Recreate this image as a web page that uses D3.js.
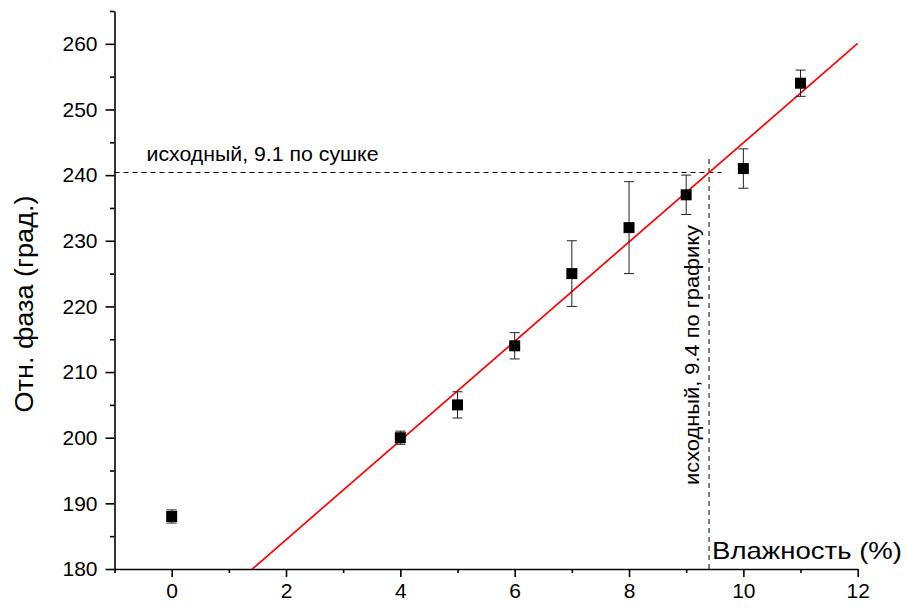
<!DOCTYPE html>
<html>
<head>
<meta charset="utf-8">
<script src="https://cdn.jsdelivr.net/npm/d3@7"></script>
<style>
  body { margin: 0; background: #fff; }
  text { font-family: "Liberation Sans", Arial, Helvetica, sans-serif; fill: #000; }
</style>
</head>
<body>
<div id="chart"></div>
<script>
// measured points: moisture (%), relative phase (deg) and its error
let moisture = [0, 4, 5, 6, 7, 8, 9, 10, 11];
let phase    = [188, 200, 205, 214, 225, 232, 237, 241, 254];
let phaseErr = [1, 1, 2, 2, 5, 7, 3, 3, 2];

// linear fit  phase = a + b * moisture
let fitA = 169.34, fitB = 7.56;

// reference values
let dryingMoisture = 9.4;
let dryingPhase = 240.4;

let xMajor = [0, 2, 4, 6, 8, 10, 12];
let xMinor = [-1, 1, 3, 5, 7, 9, 11];
let yMajor = [180, 190, 200, 210, 220, 230, 240, 250, 260];
let yMinor = [185, 195, 205, 215, 225, 235, 245, 255, 265];

const W = 906, H = 609;
const svg = d3.select('#chart').append('svg').attr('width', W).attr('height', H);

const x = d3.scaleLinear().domain([-1, 12]).range([114.5, 857.7]);
const y = d3.scaleLinear().domain([180, 265]).range([569, 11]);

svg.append('clipPath').attr('id', 'plot')
  .append('rect').attr('x', x(-1)).attr('y', 0).attr('width', W - x(-1)).attr('height', y(180));

// axes
svg.append('g').attr('transform', `translate(0,${y(180)})`)
  .call(d3.axisBottom(x).tickValues(xMajor).tickSize(8).tickSizeOuter(0).tickPadding(6).tickFormat(d3.format('d')));
svg.append('g').attr('transform', `translate(0,${y(180)})`)
  .call(d3.axisBottom(x).tickValues(xMinor).tickSize(4).tickSizeOuter(0).tickFormat(''))
  .select('.domain').remove();
svg.append('g').attr('transform', `translate(${x(-1)},0)`)
  .call(d3.axisLeft(y).tickValues(yMajor).tickSize(9).tickSizeOuter(0).tickPadding(8).tickFormat(d3.format('d')));
svg.append('g').attr('transform', `translate(${x(-1)},0)`)
  .call(d3.axisLeft(y).tickValues(yMinor).tickSize(4.5).tickSizeOuter(0).tickFormat(''))
  .select('.domain').remove();

svg.selectAll('.domain, .tick line').attr('stroke', '#000').attr('stroke-width', 1.6);
svg.selectAll('.tick text').attr('font-size', 21).attr('font-family', '"Liberation Sans", Arial, sans-serif').attr('fill', '#000');

// axis titles
svg.append('text').attr('transform', `translate(33,${(y(180) + y(265)) / 2 + 14}) rotate(-90)`)
  .attr('text-anchor', 'middle').attr('font-size', 25)
  .attr('textLength', 217).attr('lengthAdjust', 'spacingAndGlyphs')
  .text('Отн. фаза (град.)');
svg.append('text').attr('x', 712).attr('y', 559).attr('font-size', 24)
  .attr('textLength', 190).attr('lengthAdjust', 'spacingAndGlyphs')
  .text('Влажность (%)');

// dashed reference lines
svg.append('line')
  .attr('x1', x(-1)).attr('x2', x(9.62))
  .attr('y1', y(dryingPhase)).attr('y2', y(dryingPhase))
  .attr('stroke', '#000').attr('stroke-width', 1).attr('stroke-dasharray', '5,4');
svg.append('line')
  .attr('x1', x(dryingMoisture)).attr('x2', x(dryingMoisture))
  .attr('y1', y(180)).attr('y2', y(242.9))
  .attr('stroke', '#000').attr('stroke-width', 1).attr('stroke-dasharray', '5,4');

svg.append('text').attr('x', x(-1) + 32).attr('y', y(dryingPhase) - 11)
  .attr('font-size', 20).attr('textLength', 232).attr('lengthAdjust', 'spacingAndGlyphs')
  .text('исходный, 9.1 по сушке');
svg.append('text').attr('transform', `translate(${x(dryingMoisture) - 10},${y(180) - 84}) rotate(-90)`)
  .attr('font-size', 20).attr('textLength', 260).attr('lengthAdjust', 'spacingAndGlyphs')
  .text('исходный, 9.4 по графику');

// fit line
let fitLine = d3.line().x(d => x(d)).y(d => y(fitA + fitB * d));
svg.append('path').datum([-1, 12])
  .attr('clip-path', 'url(#plot)')
  .attr('d', fitLine).attr('fill', 'none').attr('stroke', '#ff0000').attr('stroke-width', 1.7);

// error bars
let pts = moisture.map((m, i) => ({m: m, p: phase[i], e: phaseErr[i]}));
let eb = svg.append('g').attr('stroke', '#222').attr('stroke-width', 1);
eb.selectAll('line.v').data(pts).join('line')
  .attr('x1', d => x(d.m)).attr('x2', d => x(d.m))
  .attr('y1', d => y(d.p - d.e)).attr('y2', d => y(d.p + d.e));
eb.selectAll('line.t').data(pts).join('line')
  .attr('x1', d => x(d.m) - 5).attr('x2', d => x(d.m) + 5)
  .attr('y1', d => y(d.p + d.e)).attr('y2', d => y(d.p + d.e));
eb.selectAll('line.b').data(pts).join('line')
  .attr('x1', d => x(d.m) - 5).attr('x2', d => x(d.m) + 5)
  .attr('y1', d => y(d.p - d.e)).attr('y2', d => y(d.p - d.e));

// markers
svg.append('g').selectAll('rect').data(pts).join('rect')
  .attr('x', d => x(d.m) - 5.5).attr('y', d => y(d.p) - 5.5)
  .attr('width', 11).attr('height', 11).attr('fill', '#000');
</script>
</body>
</html>
